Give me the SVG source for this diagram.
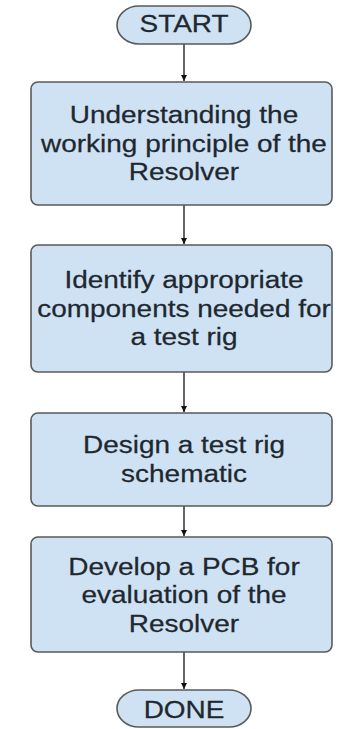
<svg xmlns="http://www.w3.org/2000/svg" width="354" height="729" viewBox="0 0 354 729">
<style>
.box{fill:#cfe2f3;stroke:#595959;stroke-width:1.6}
.t{font-family:"Liberation Sans",Arial,sans-serif;font-size:23.5px;fill:#1e2830;stroke:#1e2830;stroke-width:0.25;text-anchor:middle}
.c{stroke:#111;stroke-width:1.3;fill:none}
</style>
<defs>
<marker id="ah" viewBox="0 0 10 10" refX="10" refY="5" markerWidth="6" markerHeight="6" markerUnits="userSpaceOnUse" orient="auto">
<path d="M0,0 L10,5 L0,10 z" fill="#111"/>
</marker>
</defs>
<rect width="354" height="729" fill="#fff"/>
<g id="connectors">
<line class="c" x1="184" y1="44" x2="184" y2="81" marker-end="url(#ah)"/>
<line class="c" x1="184" y1="205" x2="184" y2="244" marker-end="url(#ah)"/>
<line class="c" x1="184" y1="372" x2="184" y2="412" marker-end="url(#ah)"/>
<line class="c" x1="184" y1="506" x2="184" y2="536" marker-end="url(#ah)"/>
<line class="c" x1="184" y1="652" x2="184" y2="689" marker-end="url(#ah)"/>
</g>
<g id="start">
<rect class="box" x="117" y="6" width="134" height="38" rx="22" ry="19"/>
<text class="t" transform="translate(184 32.3) scale(1.19 1)">START</text>
</g>
<g id="n1">
<rect class="box" x="31" y="82" width="301" height="123" rx="7"/>
<text class="t" transform="translate(184 123.3) scale(1.19 1)">Understanding the</text>
<text class="t" transform="translate(184 151.7) scale(1.19 1)">working principle of the</text>
<text class="t" transform="translate(184 180) scale(1.19 1)">Resolver</text>
</g>
<g id="n2">
<rect class="box" x="31" y="245" width="301" height="127" rx="7"/>
<text class="t" transform="translate(184 288.3) scale(1.19 1)">Identify appropriate</text>
<text class="t" transform="translate(184 316.7) scale(1.19 1)">components needed for</text>
<text class="t" transform="translate(184 345) scale(1.19 1)">a test rig</text>
</g>
<g id="n3">
<rect class="box" x="31" y="413" width="301" height="93" rx="7"/>
<text class="t" transform="translate(184 453.3) scale(1.19 1)">Design a test rig</text>
<text class="t" transform="translate(184 481.7) scale(1.19 1)">schematic</text>
</g>
<g id="n4">
<rect class="box" x="31" y="537" width="301" height="115" rx="7"/>
<text class="t" transform="translate(184 575) scale(1.19 1)">Develop a PCB for</text>
<text class="t" transform="translate(184 603.3) scale(1.19 1)">evaluation of the</text>
<text class="t" transform="translate(184 631.7) scale(1.19 1)">Resolver</text>
</g>
<g id="done">
<rect class="box" x="117" y="690" width="134" height="37" rx="22" ry="18.5"/>
<text class="t" transform="translate(184 718.3) scale(1.19 1)">DONE</text>
</g>
</svg>
